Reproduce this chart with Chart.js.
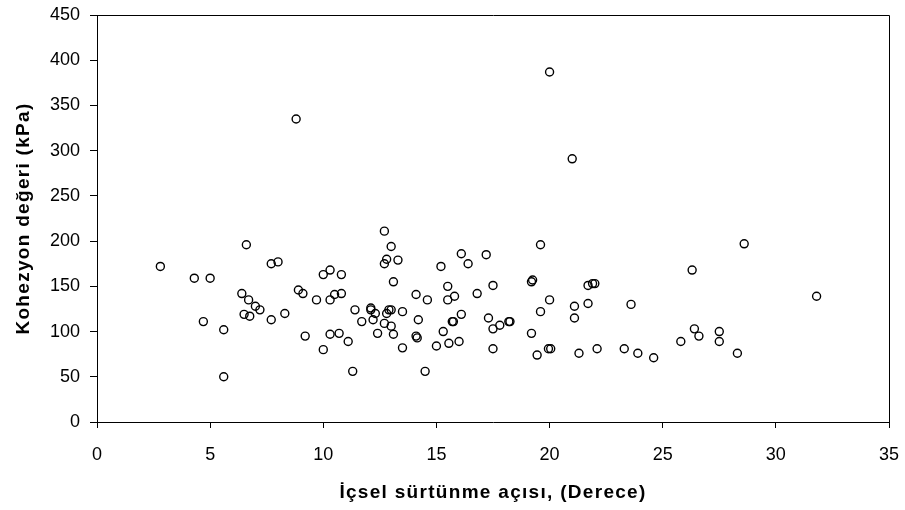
<!DOCTYPE html>
<html>
<head>
<meta charset="utf-8">
<script src="https://cdn.jsdelivr.net/npm/chart.js@4/dist/chart.umd.min.js"></script>
<style>
html,body{margin:0;padding:0;background:#fff;}
#wrap{width:905px;height:510px;}
</style>
</head>
<body>
<div id="wrap"><canvas id="c" width="905" height="510"></canvas></div>
<script>
const xTitle = "İçsel sürtünme açısı, (Derece)";
const yTitle = "Kohezyon değeri (kPa)";
const xTicks = [0,5,10,15,20,25,30,35];
const yTicks = [0,50,100,150,200,250,300,350,400,450];

const frictionAngle = [
 2.8,4.3,5.0,6.6,7.7,8.0,6.4,6.7,7.0,7.2,6.5,6.75,7.7,8.3,4.7,5.6,5.6,
 12.7,13.0,12.8,12.7,13.3,13.1,15.2,16.1,16.4,
 8.9,9.1,9.2,9.7,10.0,10.3,10.8,10.5,10.3,10.8,10.0,10.3,10.7,11.1,11.3,
 11.4,11.7,12.1,12.1,12.3,12.2,12.4,12.7,12.8,12.9,13.0,13.0,13.1,13.5,13.5,
 14.1,14.6,14.2,14.1,14.15,14.5,15.0,15.3,15.55,16.0,15.5,15.5,15.8,15.7,15.75,16.1,16.8,
 21.0,17.2,17.5,17.3,17.5,17.8,18.2,18.25,17.5,19.6,19.2,19.25,20.0,19.6,19.2,19.45,19.95,20.05,
 21.7,21.9,22.0,21.1,21.7,21.1,21.3,22.1,23.6,23.3,23.9,24.6,
 28.6,26.3,31.8,26.4,26.6,25.8,27.5,27.5,28.3,
 8.8,20.0
];
const cohesion = [
 172,159,159,196,175,177,142,135,128,124,119,117,113,120,111,102,50,
 211,194,180,175,179,155,172,186,175,
 146,142,95,135,163,168,163,141,135,142,80,97,98,89,56,
 124,111,126,124,120,113,98,109,120,124,124,106,97,122,82,
 141,135,113,95,93,56,84,100,87,89,150,135,139,111,111,119,142,
 291,185,151,115,103,107,111,111,81,196,155,157,135,122,98,74,81,81,
 151,153,153,128,131,115,76,81,130,81,76,71,
 197,168,139,103,95,89,100,89,76,
 335,387
];

const points = frictionAngle.map((x, i) => ({x: x, y: cohesion[i]}));

const frame = {
  id: 'frame',
  afterDatasetsDraw(chart) {
    const a = chart.chartArea, ctx = chart.ctx;
    ctx.save();
    ctx.strokeStyle = '#000';
    ctx.lineWidth = 1;
    ctx.beginPath();
    ctx.moveTo(Math.round(a.left) + 0.5, Math.round(a.top) + 0.5);
    ctx.lineTo(Math.round(a.right) + 0.5, Math.round(a.top) + 0.5);
    ctx.lineTo(Math.round(a.right) + 0.5, Math.round(a.bottom) + 0.5);
    ctx.stroke();
    ctx.restore();
  }
};

function spacedTitle(s) {
  if (s._spaced) return;
  s._spaced = true;
  const orig = s.drawTitle;
  s.drawTitle = function() {
    const ctx = this.ctx;
    const prev = ctx.letterSpacing;
    ctx.letterSpacing = '1.3px';
    orig.apply(this, arguments);
    ctx.letterSpacing = prev || '0px';
  };
}

new Chart(document.getElementById('c'), {
  type: 'scatter',
  data: {
    datasets: [{
      data: points,
      pointStyle: 'circle',
      pointRadius: 4,
      pointHoverRadius: 4,
      borderColor: '#000',
      backgroundColor: 'rgba(0,0,0,0)',
      borderWidth: 1.4
    }]
  },
  options: {
    responsive: false,
    animation: false,
    events: [],
    layout: {padding: {top: 15, right: 16, left: 0, bottom: 0}},
    plugins: {legend: {display: false}, tooltip: {enabled: false}},
    scales: {
      x: {
        type: 'linear',
        min: 0, max: 35,
        afterBuildTicks(s) { s.ticks = xTicks.map(v => ({value: v})); },
        afterFit(s) { s.height = 88; s.paddingLeft = 0; s.paddingRight = 0; spacedTitle(s); },
        border: {display: true, color: '#000', width: 1},
        grid: {display: true, drawOnChartArea: false, drawTicks: true, tickLength: 6, color: '#000'},
        ticks: {color: '#000', padding: 16, maxRotation: 0, font: {family: 'Liberation Sans, Arial', size: 18}},
        title: {display: true, text: xTitle, color: '#000', padding: {top: 0, bottom: 6}, font: {family: 'Liberation Sans, Arial', size: 19, weight: 'bold'}}
      },
      y: {
        type: 'linear',
        min: 0, max: 450,
        afterBuildTicks(s) { s.ticks = yTicks.map(v => ({value: v})); },
        afterFit(s) { s.width = 97; s.paddingTop = 0; s.paddingBottom = 0; spacedTitle(s); },
        border: {display: true, color: '#000', width: 1},
        grid: {display: true, drawOnChartArea: false, drawTicks: true, tickLength: 7, color: '#000'},
        ticks: {color: '#000', padding: 10, font: {family: 'Liberation Sans, Arial', size: 18}},
        title: {display: true, text: yTitle, color: '#000', padding: {top: 12, bottom: 0}, font: {family: 'Liberation Sans, Arial', size: 19, weight: 'bold'}}
      }
    }
  },
  plugins: [frame]
});
</script>
</body>
</html>
